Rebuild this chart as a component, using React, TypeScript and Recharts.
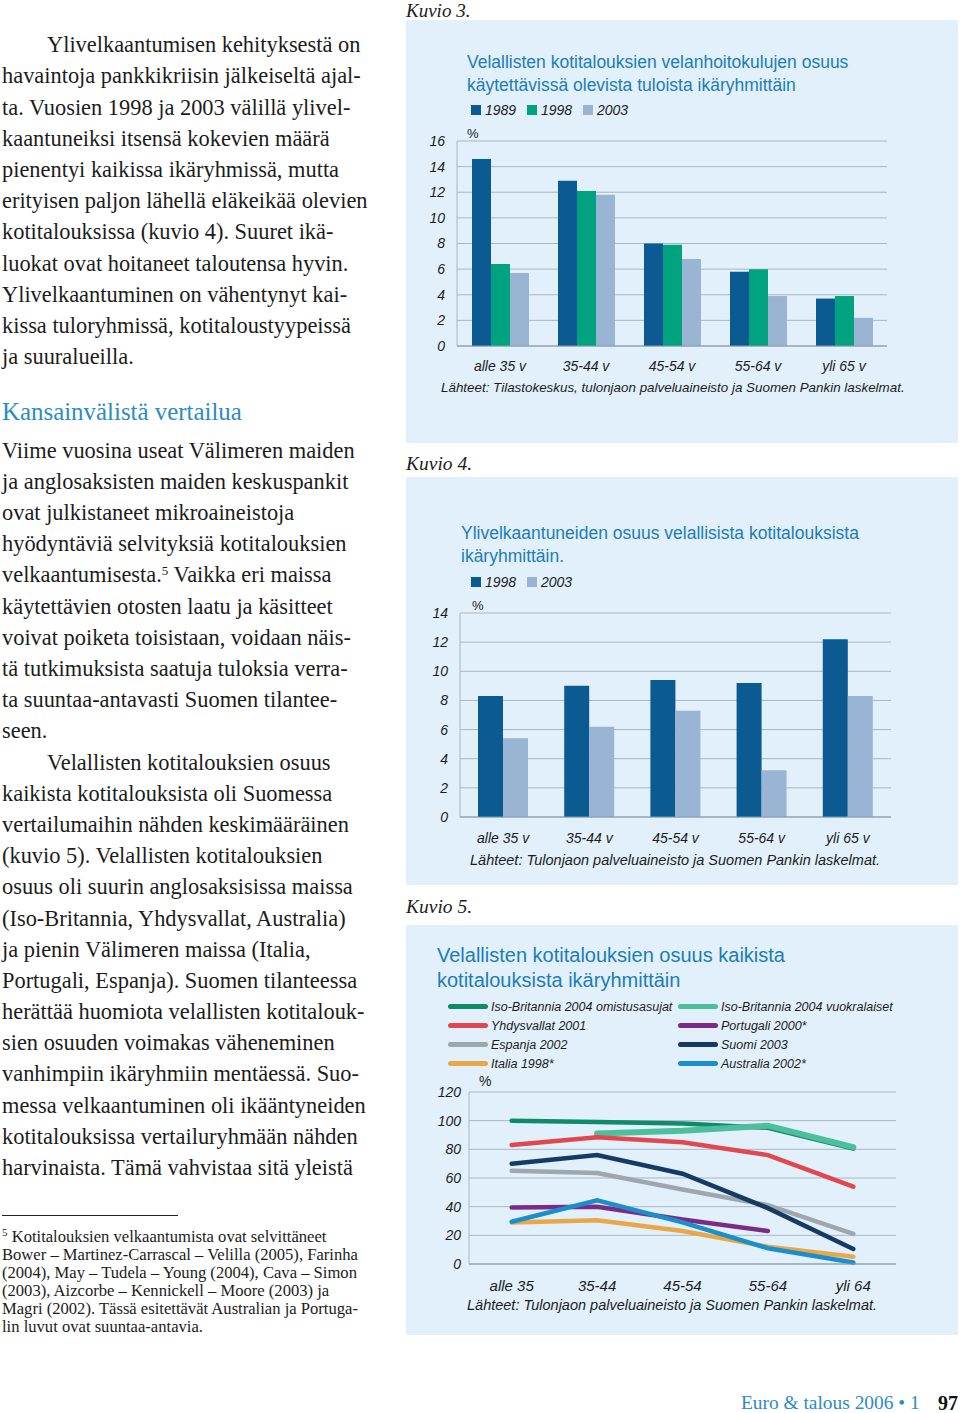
import React from 'react';
import { BarChart, Bar, LineChart, Line, XAxis, YAxis, CartesianGrid, Legend } from 'recharts';

// ---------- Kuvio 3 data ----------
const ageGroups3 = ['alle 35 v', '35-44 v', '45-54 v', '55-64 v', 'yli 65 v'];
const debt1989 = [14.6, 12.9, 8.0, 5.8, 3.7];
const debt1998 = [6.4, 12.1, 7.9, 6.0, 3.9];
const debt2003 = [5.7, 11.8, 6.8, 3.9, 2.2];
const ticks3 = [0, 2, 4, 6, 8, 10, 12, 14, 16];

// ---------- Kuvio 4 data ----------
const ageGroups4 = ['alle 35 v', '35-44 v', '45-54 v', '55-64 v', 'yli 65 v'];
const over1998 = [8.3, 9.0, 9.4, 9.2, 12.2];
const over2003 = [5.4, 6.2, 7.3, 3.2, 8.3];
const ticks4 = [0, 2, 4, 6, 8, 10, 12, 14];

// ---------- Kuvio 5 data ----------
const ageGroups5 = ['alle 35', '35-44', '45-54', '55-64', 'yli 64'];
const ukOwners = [100, 99, 98, 95, 80.5];
const ukRenters = [null, 91, 93, 96.5, 81.5];
const usa = [83, 88.5, 85, 76, 54];
const portugal = [39.5, 40, 31, 23, null];
const spain = [65, 63.5, 52, 41, 21];
const finland = [70, 76, 63, 39, 10.5];
const italy = [29, 30.5, 23, 12, 5];
const australia = [29.5, 44.5, 29, 11, 1];
const ticks5 = [0, 20, 40, 60, 80, 100, 120];

const data3 = ageGroups3.map((g, i) => ({ group: g, y1989: debt1989[i], y1998: debt1998[i], y2003: debt2003[i] }));
const data4 = ageGroups4.map((g, i) => ({ group: g, y1998: over1998[i], y2003: over2003[i] }));
const data5 = ageGroups5.map((g, i) => ({
  group: g,
  ukOwn: ukOwners[i],
  ukRent: ukRenters[i],
  us: usa[i],
  pt: portugal[i],
  es: spain[i],
  fi: finland[i],
  it: italy[i],
  au: australia[i],
}));

const lineOrder = ['ukOwn', 'ukRent', 'us', 'pt', 'es', 'fi', 'it', 'au'];

// ---------- Text ----------
const para1 = [
  'Ylivelkaantumisen kehityksestä on',
  'havaintoja pankkikriisin jälkeiseltä ajal-',
  'ta. Vuosien 1998 ja 2003 välillä ylivel-',
  'kaantuneiksi itsensä kokevien määrä',
  'pienentyi kaikissa ikäryhmissä, mutta',
  'erityisen paljon lähellä eläkeikää olevien',
  'kotitalouksissa (kuvio 4). Suuret ikä-',
  'luokat ovat hoitaneet taloutensa hyvin.',
  'Ylivelkaantuminen on vähentynyt kai-',
  'kissa tuloryhmissä, kotitaloustyypeissä',
  'ja suuralueilla.',
];
const heading = 'Kansainvälistä vertailua';
const para2 = [
  'Viime vuosina useat Välimeren maiden',
  'ja anglosaksisten maiden keskuspankit',
  'ovat julkistaneet mikroaineistoja',
  'hyödyntäviä selvityksiä kotitalouksien',
  'velkaantumisesta.{5} Vaikka eri maissa',
  'käytettävien otosten laatu ja käsitteet',
  'voivat poiketa toisistaan, voidaan näis-',
  'tä tutkimuksista saatuja tuloksia verra-',
  'ta suuntaa-antavasti Suomen tilantee-',
  'seen.',
  'Velallisten kotitalouksien osuus',
  'kaikista kotitalouksista oli Suomessa',
  'vertailumaihin nähden keskimääräinen',
  '(kuvio 5). Velallisten kotitalouksien',
  'osuus oli suurin anglosaksisissa maissa',
  '(Iso-Britannia, Yhdysvallat, Australia)',
  'ja pienin Välimeren maissa (Italia,',
  'Portugali, Espanja). Suomen tilanteessa',
  'herättää huomiota velallisten kotitalouk-',
  'sien osuuden voimakas väheneminen',
  'vanhimpiin ikäryhmiin mentäessä. Suo-',
  'messa velkaantuminen oli ikääntyneiden',
  'kotitalouksissa vertailuryhmään nähden',
  'harvinaista. Tämä vahvistaa sitä yleistä',
];
const para2Indented = [10];
const footnote = [
  '{5} Kotitalouksien velkaantumista ovat selvittäneet',
  'Bower – Martinez-Carrascal – Velilla (2005), Farinha',
  '(2004), May – Tudela – Young (2004), Cava – Simon',
  '(2003), Aizcorbe – Kennickell – Moore (2003) ja',
  'Magri (2002). Tässä esitettävät Australian ja Portuga-',
  'lin luvut ovat suuntaa-antavia.',
];

const SERIF = '"Liberation Serif", "DejaVu Serif", serif';
const SANS = '"Liberation Sans", Arial, sans-serif';
const TEXT = '#1c1c1c';
const BLUE_HEAD = '#2b8bc4';
const TITLE = '#1d7db6';
const PANEL = '#e1f0fa';
const GRID = '#a9b7c4';
const AXIS = '#8796a4';

const renderLine = (s: string, supSize: number) => {
  const parts = s.split('{5}');
  if (parts.length === 1) return s;
  return (
    <>
      {parts[0]}
      <span style={{ fontSize: supSize, lineHeight: 0, position: 'relative', top: -supSize * 0.6 }}>5</span>
      {parts[1]}
    </>
  );
};

const SquareLegend = (props: any) => {
  const { payload, order } = props;
  const items = [...(payload || [])].sort((a: any, b: any) => order.indexOf(a.dataKey) - order.indexOf(b.dataKey));
  return (
    <div style={{ display: 'flex', fontFamily: SANS }}>
      {items.map((p: any) => (
        <div key={p.dataKey} style={{ width: 56, display: 'flex', alignItems: 'center', height: 16 }}>
          <span style={{ width: 10, height: 10, background: p.color, display: 'inline-block' }} />
          <span style={{ marginLeft: 4, fontStyle: 'italic', fontSize: 14, color: TEXT }}>{p.value}</span>
        </div>
      ))}
    </div>
  );
};

const LineLegend = (props: any) => {
  const { payload } = props;
  const items = [...(payload || [])].sort(
    (a: any, b: any) => lineOrder.indexOf(a.dataKey) - lineOrder.indexOf(b.dataKey)
  );
  return (
    <div style={{ display: 'grid', gridTemplateColumns: '230px 230px', fontFamily: SANS }}>
      {items.map((p: any) => (
        <div key={p.dataKey} style={{ height: 19, display: 'flex', alignItems: 'center' }}>
          <span style={{ width: 40, height: 5, borderRadius: 3, background: p.color, display: 'inline-block' }} />
          <span style={{ marginLeft: 3, fontStyle: 'italic', fontSize: 12.5, color: TEXT }}>{p.value}</span>
        </div>
      ))}
    </div>
  );
};

const abs = (left: number, top: number, extra: React.CSSProperties = {}): React.CSSProperties => ({
  position: 'absolute',
  left,
  top,
  whiteSpace: 'nowrap',
  ...extra,
});

const tickStyle = { fontSize: 14, fontStyle: 'italic' as const, fill: TEXT, fontFamily: SANS };

export default function App() {
  return (
    <div style={{ position: 'absolute', left: 0, top: 0, width: 960, height: 1413, background: '#fff', overflow: 'hidden' }}>
      {/* Left text column */}
      <div style={abs(2, 29.1, { fontFamily: SERIF, fontSize: 22.4, lineHeight: '31.2px', color: TEXT })}>
        {para1.map((l, i) => (
          <div key={i} style={{ paddingLeft: i === 0 ? 45 : 0 }}>{l}</div>
        ))}
      </div>
      <div style={abs(2, 396, { fontFamily: SERIF, fontSize: 24.9, lineHeight: '31.2px', color: BLUE_HEAD })}>{heading}</div>
      <div style={abs(2, 434.7, { fontFamily: SERIF, fontSize: 22.4, lineHeight: '31.2px', color: TEXT })}>
        {para2.map((l, i) => (
          <div key={i} style={{ paddingLeft: para2Indented.includes(i) ? 45 : 0, height: 31.2 }}>{renderLine(l, 13)}</div>
        ))}
      </div>
      <div style={abs(2, 1215, { width: 176, height: 1, background: '#222' })} />
      <div style={abs(2, 1228.4, { fontFamily: SERIF, fontSize: 16.6, lineHeight: '18px', color: TEXT })}>
        {footnote.map((l, i) => (
          <div key={i} style={{ height: 18 }}>{renderLine(l, 11)}</div>
        ))}
      </div>

      {/* Footer */}
      <div style={abs(741, 1393, { fontFamily: SERIF, fontSize: 19.4, lineHeight: '20px', color: BLUE_HEAD })}>
        Euro &amp; talous 2006 • 1
      </div>
      <div style={abs(938, 1393, { fontFamily: SERIF, fontSize: 20, lineHeight: '20px', color: '#111', fontWeight: 'bold' })}>97</div>

      {/* Kuvio labels */}
      <div style={abs(406, 0, { fontFamily: SERIF, fontStyle: 'italic', fontSize: 19, lineHeight: '21px', color: TEXT })}>Kuvio 3.</div>
      <div style={abs(406, 454, { fontFamily: SERIF, fontStyle: 'italic', fontSize: 19.5, lineHeight: '20px', color: TEXT })}>Kuvio 4.</div>
      <div style={abs(406, 896.7, { fontFamily: SERIF, fontStyle: 'italic', fontSize: 19.5, lineHeight: '20px', color: TEXT })}>Kuvio 5.</div>

      {/* Chart 3 */}
      <div style={abs(406, 20, { width: 552, height: 423, background: PANEL })}>
        <BarChart
          width={552}
          height={423}
          data={data3}
          margin={{ top: 121, right: 71, bottom: 67, left: 0 }}
          barCategoryGap={15}
          barGap={0}
          style={{ fontFamily: SANS }}
        >
          <CartesianGrid vertical={false} stroke={GRID} />
          <XAxis dataKey="group" height={30} tickLine={false} tickMargin={9} axisLine={{ stroke: AXIS }} tick={tickStyle} interval={0} />
          <YAxis width={51} domain={[0, 16]} ticks={ticks3} interval={0} tickLine={false} tickMargin={6} axisLine={{ stroke: GRID }} tick={tickStyle} />
          <YAxis yAxisId="r" orientation="right" width={0} domain={[0, 16]} tick={false} tickLine={false} axisLine={{ stroke: GRID }} />
          <Legend
            layout="horizontal"
            verticalAlign="middle"
            align="center"
            wrapperStyle={{ top: 82, left: 65, width: 300 }}
            content={(p: any) => <SquareLegend {...p} order={['y1989', 'y1998', 'y2003']} />}
          />
          <Bar dataKey="y1989" name="1989" fill="#0b5b92" isAnimationActive={false} />
          <Bar dataKey="y1998" name="1998" fill="#00a27f" isAnimationActive={false} />
          <Bar dataKey="y2003" name="2003" fill="#9ab5d3" isAnimationActive={false} />
        </BarChart>
      </div>
      <div style={abs(467, 51, { fontFamily: SANS, fontSize: 17.5, lineHeight: '23px', color: TITLE })}>
        Velallisten kotitalouksien velanhoitokulujen osuus
        <br />
        käytettävissä olevista tuloista ikäryhmittäin
      </div>
      <div style={abs(467, 126, { fontFamily: SANS, fontSize: 13, lineHeight: '16px', color: TEXT })}>%</div>
      <div style={abs(441, 380, { fontFamily: SANS, fontSize: 13.4, fontStyle: 'italic', lineHeight: '16px', color: TEXT })}>
        Lähteet: Tilastokeskus, tulonjaon palveluaineisto ja Suomen Pankin laskelmat.
      </div>

      {/* Chart 4 */}
      <div style={abs(406, 477, { width: 552, height: 408, background: PANEL })}>
        <BarChart
          width={552}
          height={408}
          data={data4}
          margin={{ top: 136, right: 67, bottom: 38, left: 0 }}
          barCategoryGap={18}
          barGap={0}
          style={{ fontFamily: SANS }}
        >
          <CartesianGrid vertical={false} stroke={GRID} />
          <XAxis dataKey="group" height={30} tickLine={false} tickMargin={10} axisLine={{ stroke: AXIS }} tick={tickStyle} interval={0} />
          <YAxis width={54} domain={[0, 14]} ticks={ticks4} interval={0} tickLine={false} tickMargin={6} axisLine={{ stroke: GRID }} tick={tickStyle} />
          <YAxis yAxisId="r" orientation="right" width={0} domain={[0, 14]} tick={false} tickLine={false} axisLine={{ stroke: GRID }} />
          <Legend
            layout="horizontal"
            verticalAlign="middle"
            align="center"
            wrapperStyle={{ top: 97, left: 65, width: 300 }}
            content={(p: any) => <SquareLegend {...p} order={['y1998', 'y2003']} />}
          />
          <Bar dataKey="y1998" name="1998" fill="#0b5b92" isAnimationActive={false} />
          <Bar dataKey="y2003" name="2003" fill="#9ab5d3" isAnimationActive={false} />
        </BarChart>
      </div>
      <div style={abs(461, 521.5, { fontFamily: SANS, fontSize: 17.5, lineHeight: '23px', color: TITLE })}>
        Ylivelkaantuneiden osuus velallisista kotitalouksista
        <br />
        ikäryhmittäin.
      </div>
      <div style={abs(472, 598, { fontFamily: SANS, fontSize: 13, lineHeight: '16px', color: TEXT })}>%</div>
      <div style={abs(470, 851, { fontFamily: SANS, fontSize: 14.5, fontStyle: 'italic', lineHeight: '18px', color: TEXT })}>
        Lähteet: Tulonjaon palveluaineisto ja Suomen Pankin laskelmat.
      </div>

      {/* Chart 5 */}
      <div style={abs(406, 925, { width: 552, height: 410, background: PANEL })}>
        <LineChart
          width={552}
          height={410}
          data={data5}
          margin={{ top: 167, right: 62, bottom: 41, left: 0 }}
          style={{ fontFamily: SANS }}
        >
          <CartesianGrid vertical={false} stroke={GRID} />
          <XAxis dataKey="group" scale="band" height={30} tickLine={false} tickMargin={10} axisLine={{ stroke: AXIS }} tick={{ ...tickStyle, fontSize: 15 }} interval={0} />
          <YAxis width={63} domain={[0, 120]} ticks={ticks5} interval={0} tickLine={false} tickMargin={2} axisLine={{ stroke: GRID }} tick={tickStyle} />
          <YAxis yAxisId="r" orientation="right" width={0} domain={[0, 120]} tick={false} tickLine={false} axisLine={{ stroke: GRID }} />
          <Legend
            layout="horizontal"
            verticalAlign="middle"
            align="center"
            wrapperStyle={{ top: 72, left: 42, width: 470 }}
            content={(p: any) => <LineLegend {...p} />}
          />
          <Line type="linear" dataKey="ukOwn" name="Iso-Britannia 2004 omistusasujat" stroke="#0e8c6a" strokeWidth={4.5} strokeLinecap="round" dot={false} isAnimationActive={false} />
          <Line type="linear" dataKey="ukRent" name="Iso-Britannia 2004 vuokralaiset" stroke="#4ebf9c" strokeWidth={6} strokeLinecap="round" dot={false} isAnimationActive={false} />
          <Line type="linear" dataKey="us" name="Yhdysvallat 2001" stroke="#e0474f" strokeWidth={4.5} strokeLinecap="round" dot={false} isAnimationActive={false} />
          <Line type="linear" dataKey="es" name="Espanja 2002" stroke="#9ea6ae" strokeWidth={4.5} strokeLinecap="round" dot={false} isAnimationActive={false} />
          <Line type="linear" dataKey="pt" name="Portugali 2000*" stroke="#7a2b87" strokeWidth={4.5} strokeLinecap="round" dot={false} isAnimationActive={false} />
          <Line type="linear" dataKey="it" name="Italia 1998*" stroke="#e9a847" strokeWidth={4.5} strokeLinecap="round" dot={false} isAnimationActive={false} />
          <Line type="linear" dataKey="au" name="Australia 2002*" stroke="#1a8fcb" strokeWidth={4.5} strokeLinecap="round" dot={false} isAnimationActive={false} />
          <Line type="linear" dataKey="fi" name="Suomi 2003" stroke="#153a63" strokeWidth={4.5} strokeLinecap="round" dot={false} isAnimationActive={false} />
        </LineChart>
      </div>
      <div style={abs(437, 942.5, { fontFamily: SANS, fontSize: 20, lineHeight: '25px', color: TITLE })}>
        Velallisten kotitalouksien osuus kaikista
        <br />
        kotitalouksista ikäryhmittäin
      </div>
      <div style={abs(479, 1073, { fontFamily: SANS, fontSize: 14, lineHeight: '17px', color: TEXT })}>%</div>
      <div style={abs(467, 1296, { fontFamily: SANS, fontSize: 14.5, fontStyle: 'italic', lineHeight: '18px', color: TEXT })}>
        Lähteet: Tulonjaon palveluaineisto ja Suomen Pankin laskelmat.
      </div>
    </div>
  );
}
